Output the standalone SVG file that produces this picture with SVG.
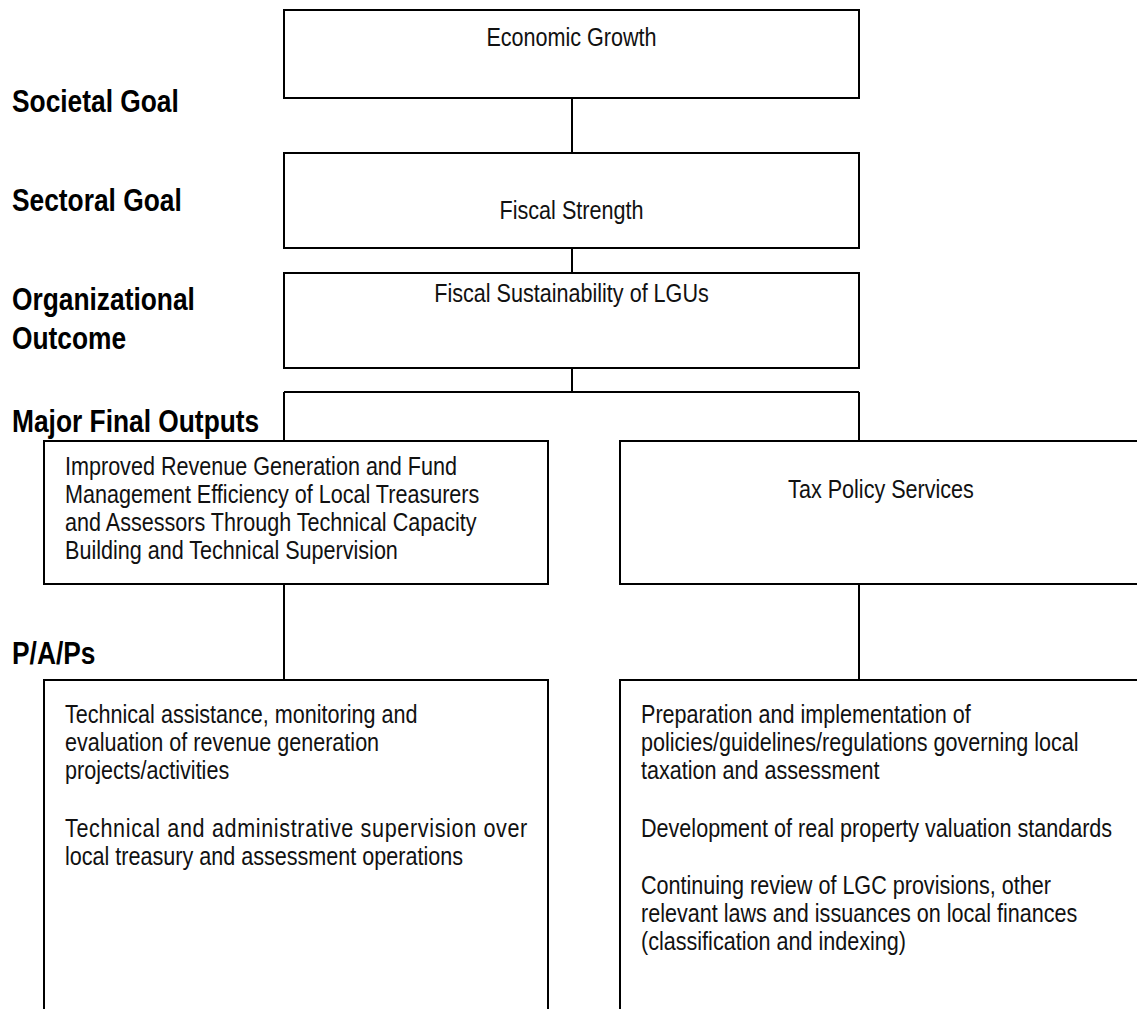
<svg xmlns="http://www.w3.org/2000/svg" width="1137" height="1009" viewBox="0 0 1137 1009">
<style>
.box{fill:#fff;stroke:#000;stroke-width:2}
.con{fill:none;stroke:#000;stroke-width:2}
.t{font-family:"Liberation Sans",Arial,sans-serif;font-size:26px;fill:#111}
.c{text-anchor:middle}
.l{font-family:"Liberation Sans",Arial,sans-serif;font-size:31px;font-weight:bold;fill:#000}
</style>
<rect width="1137" height="1009" fill="#fff"/>
<g id="labels">
<g transform="translate(12,0) scale(0.85,1)">
<text class="l" x="0" y="112">Societal Goal</text>
<text class="l" x="0" y="211">Sectoral Goal</text>
<text class="l" x="0" y="310">Organizational</text>
<text class="l" x="0" y="349">Outcome</text>
<text class="l" x="0" y="432">Major Final Outputs</text>
<text class="l" x="0" y="664">P/A/Ps</text>
</g>
</g>
<g id="connectors">
<path class="con" d="M572,98V153M572,248V273M572,368V392M284,392H859M284,392V441M859,392V441M284,584V680M859,584V680"/>
</g>
<g id="n1">
<rect class="box" x="284" y="10" width="575" height="88"/>
<g transform="translate(571.5,0) scale(0.83,1)"><text class="t c" x="0" y="46">Economic Growth</text></g>
</g>
<g id="n2">
<rect class="box" x="284" y="153" width="575" height="95"/>
<g transform="translate(571.5,0) scale(0.83,1)"><text class="t c" x="0" y="219">Fiscal Strength</text></g>
</g>
<g id="n3">
<rect class="box" x="284" y="273" width="575" height="95"/>
<g transform="translate(571.5,0) scale(0.83,1)"><text class="t c" x="0" y="302">Fiscal Sustainability of LGUs</text></g>
</g>
<g id="n4">
<rect class="box" x="44" y="441" width="504" height="143"/>
<g transform="translate(65,0) scale(0.83,1)">
<text class="t" x="0" y="475.5">Improved Revenue Generation and Fund</text>
<text class="t" x="0" y="503.5">Management Efficiency of Local Treasurers</text>
<text class="t" x="0" y="531.5">and Assessors Through Technical Capacity</text>
<text class="t" x="0" y="559.5">Building and Technical Supervision</text>
</g>
</g>
<g id="n5">
<rect class="box" x="620" y="441" width="530" height="143"/>
<g transform="translate(881,0) scale(0.83,1)"><text class="t c" x="0" y="498">Tax Policy Services</text></g>
</g>
<g id="n6">
<rect class="box" x="44" y="680" width="504" height="340"/>
<g transform="translate(65,0) scale(0.83,1)">
<text class="t" x="0" y="723">Technical assistance, monitoring and</text>
<text class="t" x="0" y="751">evaluation of revenue generation</text>
<text class="t" x="0" y="779">projects/activities</text>
<text class="t" x="0" y="837" textLength="557" lengthAdjust="spacing">Technical and administrative supervision over</text>
<text class="t" x="0" y="865">local treasury and assessment operations</text>
</g>
</g>
<g id="n7">
<rect class="box" x="620" y="680" width="530" height="340"/>
<g transform="translate(641,0) scale(0.83,1)">
<text class="t" x="0" y="723">Preparation and implementation of</text>
<text class="t" x="0" y="751">policies/guidelines/regulations governing local</text>
<text class="t" x="0" y="779">taxation and assessment</text>
<text class="t" x="0" y="837">Development of real property valuation standards</text>
<text class="t" x="0" y="894">Continuing review of LGC provisions, other</text>
<text class="t" x="0" y="922">relevant laws and issuances on local finances</text>
<text class="t" x="0" y="950">(classification and indexing)</text>
</g>
</g>
</svg>
